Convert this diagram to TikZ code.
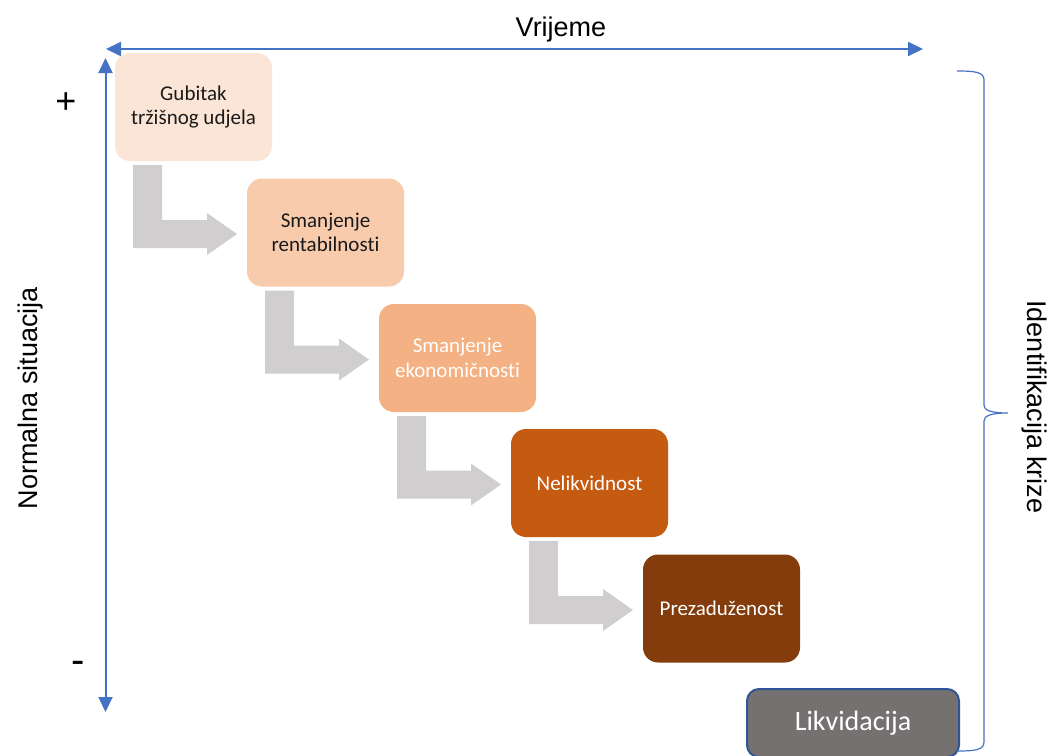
\documentclass[tikz,border=0pt]{standalone}
\usepackage{fontspec}
\setmainfont{Carlito}[Ligatures=NoCommon]
\newfontfamily\arialf{Liberation Sans}
\usetikzlibrary{arrows.meta,calc}
\definecolor{axisblue}{HTML}{4472C4}
\definecolor{cA}{HTML}{FBE5D6}
\definecolor{cB}{HTML}{F8CBAD}
\definecolor{cC}{HTML}{F4B183}
\definecolor{cD}{HTML}{C55A11}
\definecolor{cE}{HTML}{843C0C}
\definecolor{cF}{HTML}{767171}
\definecolor{cFb}{HTML}{2F5597}
\definecolor{flowgray}{HTML}{D0CECE}
\definecolor{darktext}{HTML}{1A1A1A}
\tikzset{
  stage/.style={rounded corners=15pt, minimum width=157pt, minimum height=108pt,
    inner sep=0pt, outer sep=0pt, align=center,
    font=\fontsize{21}{24.5}\selectfont},
  axis/.style={draw=axisblue, line width=2pt,
    {Triangle[length=15pt,width=14pt]}-{Triangle[length=15pt,width=14pt]}},
  bracestyle/.style={draw=axisblue, line width=1.2pt},
  flow/.style={fill=flowgray},
  outer/.style={font=\arialf\fontsize{27}{30}\selectfont, inner sep=0pt}
}
\begin{document}
\begin{tikzpicture}[x=1pt,y=-1pt]
\useasboundingbox (0,0) rectangle (1049,755);
% axes
\coordinate (h1) at (106,49);
\coordinate (h2) at (923,49);
\coordinate (v1) at (105.5,58);
\coordinate (v2) at (105.5,712);
\draw[axis] (h1) -- (h2);
\draw[axis] (v1) -- (v2);
% outer labels
\node[outer, anchor=base] (tvr) at (561,36) {Vrijeme};
\node[outer, anchor=base, rotate=90] (tns) at (37,398) {Normalna situacija};
\node[outer, anchor=base, rotate=-90] (tik) at (1027,407) {Identifikacija krize};
\node[font=\arialf\fontsize{36}{40}\selectfont, inner sep=0pt] (plus) at (66,103) {+};
\node[font=\arialf\fontsize{40}{44}\selectfont, inner sep=0pt] (minus) at (78,667) {-};
% stages
\node[stage, fill=cA, text=darktext] (b1) at (193.5,107) {Gubitak\\tržišnog udjela};
\node[stage, fill=cB, text=darktext] (b2) at (325.5,232.5) {Smanjenje\\rentabilnosti};
\node[stage, fill=cC, text=white] (b3) at (457.5,358) {Smanjenje\\ekonomičnosti};
\node[stage, fill=cD, text=white] (b4) at (589.5,483) {Nelikvidnost};
\node[stage, fill=cE, text=white] (b5) at (721.5,608.5) {Prezaduženost};
\node[rounded corners=12pt, minimum width=212pt, minimum height=68pt, inner sep=0pt,
  fill=cF, draw=cFb, line width=2pt, text=white,
  font=\fontsize{28}{32}\selectfont] (b6) at (853,723) {Likvidacija};
% bent flow arrows
\foreach \i/\j in {1/2,2/3,3/4,4/5}{
  \fill[flow] ($(b\i.south west)+(18,4)$) -- ($(b\i.south west)+(47,4)$)
    |- ($(b\j.west)+(-40,-12.5)$) -- ($(b\j.west)+(-40,-19.5)$)
    -- ($(b\j.west)+(-10,1.5)$) -- ($(b\j.west)+(-40,22.5)$)
    -- ($(b\j.west)+(-40,15.5)$) -| ($(b\i.south west)+(18,4)$) -- cycle;
}
% brace
\draw[bracestyle] (957,71) .. controls (975,71) and (984,72) .. (984,80)
  -- (984,405) .. controls (984,410) and (990,413) .. (1008,413)
  .. controls (990,413) and (984,416) .. (984,421)
  -- (984,742) .. controls (984,750) and (975,751) .. (957,751);
\end{tikzpicture}
\end{document}
